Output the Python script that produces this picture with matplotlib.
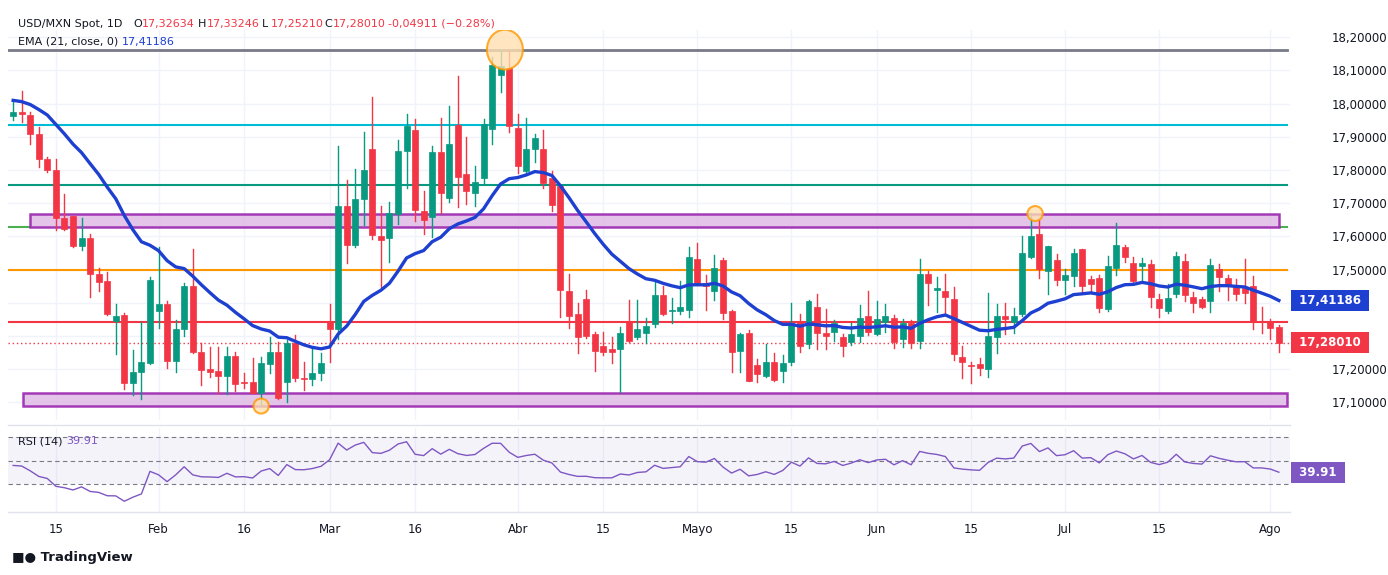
import numpy as np
import pandas as pd
import matplotlib
matplotlib.use("Agg")
from matplotlib import pyplot as plt
from matplotlib import transforms as mtrans
from matplotlib.patches import Rectangle, Ellipse

# daily candles (O, H, L, C)
opens = [17.963, 17.975, 17.965, 17.910, 17.833, 17.800, 17.656, 17.661, 17.571, 17.596,
         17.488, 17.465, 17.346, 17.363, 17.158, 17.191, 17.220, 17.376, 17.396, 17.226,
         17.320, 17.451, 17.253, 17.201, 17.195, 17.181, 17.240, 17.161, 17.160, 17.128,
         17.215, 17.252, 17.160, 17.278, 17.173, 17.170, 17.188, 17.345, 17.321, 17.693,
         17.573, 17.713, 17.863, 17.600, 17.596, 17.668, 17.857, 17.920, 17.678, 17.660,
         17.853, 17.716, 17.935, 17.787, 17.732, 17.775, 17.925, 18.087, 18.108, 17.928,
         17.798, 17.862, 17.863, 17.777, 17.753, 17.435, 17.365, 17.411, 17.306, 17.270,
         17.260, 17.260, 17.345, 17.298, 17.310, 17.335, 17.423, 17.376, 17.376, 17.378,
         17.531, 17.461, 17.436, 17.528, 17.375, 17.256, 17.308, 17.213, 17.181, 17.221,
         17.196, 17.221, 17.345, 17.276, 17.388, 17.310, 17.313, 17.296, 17.283, 17.301,
         17.360, 17.305, 17.343, 17.355, 17.290, 17.340, 17.286, 17.488, 17.440, 17.435,
         17.411, 17.236, 17.213, 17.216, 17.200, 17.296, 17.360, 17.341, 17.366, 17.538,
         17.606, 17.496, 17.528, 17.470, 17.480, 17.561, 17.471, 17.475, 17.380, 17.505,
         17.568, 17.521, 17.510, 17.518, 17.413, 17.376, 17.426, 17.526, 17.418, 17.413,
         17.406, 17.501, 17.476, 17.451, 17.445, 17.451, 17.345, 17.346, 17.32634]
highs = [18.005, 18.037, 17.975, 17.930, 17.840, 17.832, 17.728, 17.663, 17.655, 17.606,
         17.506, 17.493, 17.396, 17.370, 17.258, 17.343, 17.478, 17.568, 17.406, 17.348,
         17.461, 17.561, 17.278, 17.268, 17.268, 17.268, 17.251, 17.188, 17.233, 17.238,
         17.298, 17.283, 17.288, 17.303, 17.221, 17.260, 17.248, 17.396, 17.872, 17.770,
         17.803, 17.915, 18.020, 17.693, 17.705, 17.890, 17.968, 17.953, 17.737, 17.872,
         17.957, 17.992, 18.083, 17.900, 17.813, 17.955, 18.142, 18.158, 18.158, 17.968,
         17.957, 17.908, 17.920, 17.797, 17.755, 17.486, 17.401, 17.438, 17.313, 17.313,
         17.296, 17.328, 17.408, 17.410, 17.353, 17.463, 17.450, 17.415, 17.466, 17.568,
         17.580, 17.483, 17.545, 17.535, 17.378, 17.310, 17.318, 17.231, 17.276, 17.250,
         17.243, 17.398, 17.366, 17.410, 17.426, 17.381, 17.348, 17.306, 17.338, 17.393,
         17.435, 17.405, 17.396, 17.363, 17.350, 17.348, 17.531, 17.495, 17.478, 17.486,
         17.448, 17.271, 17.221, 17.233, 17.431, 17.396, 17.400, 17.385, 17.600, 17.670,
         17.650, 17.570, 17.546, 17.501, 17.561, 17.563, 17.480, 17.483, 17.540, 17.640,
         17.575, 17.538, 17.535, 17.530, 17.428, 17.456, 17.553, 17.548, 17.433, 17.418,
         17.533, 17.518, 17.485, 17.473, 17.533, 17.480, 17.388, 17.350, 17.33246]
lows = [17.952, 17.945, 17.880, 17.810, 17.795, 17.618, 17.620, 17.568, 17.558, 17.418,
        17.436, 17.363, 17.245, 17.140, 17.123, 17.110, 17.215, 17.323, 17.205, 17.191,
        17.300, 17.248, 17.153, 17.178, 17.128, 17.126, 17.133, 17.143, 17.128, 17.088,
        17.190, 17.110, 17.101, 17.163, 17.138, 17.153, 17.168, 17.223, 17.290, 17.521,
        17.568, 17.633, 17.593, 17.448, 17.523, 17.638, 17.747, 17.648, 17.608, 17.598,
        17.670, 17.703, 17.688, 17.698, 17.693, 17.758, 17.880, 18.035, 17.915, 17.792,
        17.792, 17.825, 17.745, 17.678, 17.358, 17.323, 17.248, 17.293, 17.196, 17.243,
        17.218, 17.130, 17.283, 17.290, 17.280, 17.328, 17.363, 17.338, 17.366, 17.358,
        17.453, 17.378, 17.410, 17.351, 17.193, 17.193, 17.163, 17.160, 17.178, 17.163,
        17.160, 17.213, 17.253, 17.263, 17.260, 17.260, 17.286, 17.241, 17.273, 17.283,
        17.303, 17.303, 17.313, 17.263, 17.268, 17.265, 17.263, 17.393, 17.373, 17.368,
        17.228, 17.175, 17.158, 17.183, 17.178, 17.248, 17.306, 17.308, 17.361, 17.536,
        17.475, 17.428, 17.453, 17.428, 17.450, 17.433, 17.430, 17.373, 17.375, 17.485,
        17.523, 17.460, 17.466, 17.388, 17.356, 17.370, 17.418, 17.406, 17.373, 17.383,
        17.373, 17.436, 17.410, 17.410, 17.398, 17.320, 17.310, 17.290, 17.25210]
closes = [17.975, 17.968, 17.910, 17.832, 17.800, 17.655, 17.623, 17.571, 17.596, 17.488,
          17.463, 17.366, 17.361, 17.158, 17.193, 17.221, 17.468, 17.396, 17.226, 17.320,
          17.451, 17.253, 17.198, 17.193, 17.181, 17.240, 17.155, 17.158, 17.128, 17.218,
          17.252, 17.113, 17.278, 17.173, 17.170, 17.188, 17.220, 17.321, 17.693, 17.573,
          17.713, 17.800, 17.605, 17.590, 17.672, 17.857, 17.933, 17.680, 17.650, 17.853,
          17.730, 17.880, 17.780, 17.738, 17.763, 17.940, 18.117, 18.115, 17.933, 17.813,
          17.863, 17.897, 17.762, 17.695, 17.440, 17.360, 17.298, 17.300, 17.256, 17.251,
          17.251, 17.308, 17.286, 17.321, 17.330, 17.423, 17.366, 17.378, 17.388, 17.538,
          17.460, 17.451, 17.506, 17.370, 17.253, 17.306, 17.166, 17.185, 17.221, 17.168,
          17.220, 17.338, 17.271, 17.405, 17.308, 17.301, 17.338, 17.271, 17.306, 17.355,
          17.313, 17.351, 17.360, 17.283, 17.338, 17.280, 17.486, 17.460, 17.445, 17.418,
          17.245, 17.223, 17.211, 17.203, 17.300, 17.360, 17.350, 17.361, 17.550, 17.600,
          17.503, 17.570, 17.468, 17.483, 17.551, 17.451, 17.458, 17.383, 17.510, 17.575,
          17.538, 17.466, 17.521, 17.418, 17.383, 17.416, 17.540, 17.423, 17.398, 17.388,
          17.515, 17.478, 17.451, 17.428, 17.430, 17.341, 17.341, 17.325, 17.28010]

tick_pos = [5, 17, 27, 37, 47, 59, 69, 80, 91, 101, 112, 123, 134, 147]
tick_lbl = ["15", "Feb", "16", "Mar", "16", "Abr", "15", "Mayo", "15", "Jun", "15", "Jul", "15", "Ago"]

# horizontal levels drawn on the chart
lvl_gray, lvl_cyan, lvl_green, lvl_orange, lvl_red = 18.163, 17.935, 17.755, 17.499, 17.343
box_hi = (17.629, 17.669)
box_lo = (17.089, 17.129)
ema_seed = 18.01
rsi_seed = (0.022, 0.026)   # avg gain / loss carried in from before the window

UP, DN = "#089981", "#F23645"
W, H = 1388, 575

df = pd.DataFrame({"o": opens, "h": highs, "l": lows, "c": closes})
x = np.arange(len(df))

# EMA 21
ema = [ema_seed]
a = 2 / 22
for c in closes[1:]:
    ema.append(a * c + (1 - a) * ema[-1])
ema = np.array(ema)

# RSI 14 (Wilder)
g, l_ = rsi_seed
rsi = [100 - 100 / (1 + g / l_)]
for d in np.diff(closes):
    g = (g * 13 + max(d, 0)) / 14
    l_ = (l_ * 13 + max(-d, 0)) / 14
    rsi.append(100 - 100 / (1 + g / l_))
rsi = np.array(rsi)

fig = plt.figure(figsize=(W / 100, H / 100), dpi=100, facecolor="white")
ax = fig.add_axes([8 / W, 1 - 420 / H, 1282 / W, 390 / H])
ar = fig.add_axes([8 / W, 1 - 512 / H, 1282 / W, 84 / H], sharex=ax)

xmin, xmax = -0.6, 149.3
ax.set_xlim(xmin, xmax)
ax.set_ylim(17.047, 18.222)

for a_ in (ax, ar):
    for s in a_.spines.values():
        s.set_visible(False)
    for t in tick_pos:
        a_.axvline(t, color="#f0f3fa", lw=1, zorder=0)
for p in np.arange(17.1, 18.25, 0.1):
    ax.axhline(p, color="#f0f3fa", lw=1, zorder=0)

# levels
ax.plot([xmin, 149], [lvl_gray] * 2, color="#787B86", lw=2, zorder=2)
ax.plot([xmin, 149], [lvl_cyan] * 2, color="#00BCD4", lw=1.5, zorder=2)
ax.plot([xmin, 149], [lvl_green] * 2, color="#089981", lw=1.5, zorder=2)
ax.plot([xmin, 149], [lvl_orange] * 2, color="#FF9800", lw=1.5, zorder=2)
ax.plot([xmin, 149], [lvl_red] * 2, color="#F23645", lw=1.5, zorder=2)
ax.plot([xmin, 2], [box_hi[0]] * 2, color="#4CAF50", lw=1.5, zorder=2)
ax.plot([148, 149], [box_hi[0]] * 2, color="#4CAF50", lw=1.5, zorder=2)
ax.add_patch(Rectangle((2, box_hi[0]), 146, box_hi[1] - box_hi[0], fc="#E1BEE7", ec="#9C27B0",
                       lw=1.8, alpha=0.9, zorder=2))
ax.add_patch(Rectangle((1.1, box_lo[0]), 147.8, box_lo[1] - box_lo[0], fc="#E1BEE7", ec="#9C27B0",
                       lw=1.8, alpha=0.9, zorder=2))
ax.axhline(closes[-1], color=DN, lw=1, ls=(0, (1, 2)), zorder=2)

# candles
for i, r in df.iterrows():
    col = UP if r.c >= r.o else DN
    ax.plot([i, i], [r.l, r.h], color=col, lw=1, zorder=3)
    lo, hi = min(r.o, r.c), max(r.o, r.c)
    ax.add_patch(Rectangle((i - 0.35, lo), 0.7, max(hi - lo, 0.002), fc=col, ec=col, lw=0.5, zorder=4))

ax.plot(x, ema, color="#1E40D0", lw=2.4, zorder=5)

# highlight circles
ax.add_patch(Ellipse((57.5, lvl_gray), 4.2, 0.12, fc="#FFE0B2", ec="#FF9800", lw=1.5, alpha=0.8, zorder=6))
ax.add_patch(Ellipse((119.5, 17.669), 1.8, 0.045, fc="#FFE0B2", ec="#FF9800", lw=1.5, alpha=0.8, zorder=6))
ax.add_patch(Ellipse((29, 17.089), 1.8, 0.045, fc="#FFE0B2", ec="#FF9800", lw=1.5, alpha=0.8, zorder=6))

# price axis (17,4 and 17,3 sit under the badges in the original)
yt = [v for v in np.arange(17.1, 18.25, 0.1) if abs(v - 17.4) > 0.01 and abs(v - 17.3) > 0.01]
ax.yaxis.tick_right()
ax.set_yticks(yt)
ax.set_yticklabels(["{:.5f}".format(v).replace(".", ",") for v in yt])
ax.tick_params(axis="y", length=0, pad=30, labelsize=8.5, labelcolor="#131722")
ax.tick_params(axis="x", length=0, labelbottom=False)
tr = mtrans.blended_transform_factory(ax.transAxes, ax.transData)
ax.text(1.004, ema[-1], " 17,41186 ", transform=tr, color="white", fontsize=8.5, fontweight="bold",
        va="center", zorder=10, bbox=dict(boxstyle="square,pad=0.35", fc="#1E40D0", ec="none"))
ax.text(1.004, closes[-1], " 17,28010 ", transform=tr, color="white", fontsize=8.5, fontweight="bold",
        va="center", zorder=10, bbox=dict(boxstyle="square,pad=0.35", fc=DN, ec="none"))

# RSI pane
ar.set_ylim(6.2, 77.7)
ar.axhspan(30, 70, color="#7E57C2", alpha=0.07, lw=0)
for lv in (30, 50, 70):
    ar.axhline(lv, color="#787B86", lw=0.8, ls=(0, (4, 3)))
ar.plot(x, rsi, color="#7E57C2", lw=1)
ar.set_yticks([])
ar.set_xticks(tick_pos)
ar.set_xticklabels(tick_lbl)
ar.tick_params(axis="x", length=0, pad=8, labelsize=8.5, labelcolor="#131722")
trr = mtrans.blended_transform_factory(ar.transAxes, ar.transData)
ar.text(1.004, rsi[-1], " 39.91 ", transform=trr, color="white", fontsize=8.5, fontweight="bold",
        va="center", bbox=dict(boxstyle="square,pad=0.35", fc="#7E57C2", ec="none"))
fig.add_artist(plt.Line2D([8 / W, 1290 / W], [1 - 425 / H] * 2, color="#e0e3eb", lw=1))
fig.add_artist(plt.Line2D([8 / W, 1290 / W], [1 - 512 / H] * 2, color="#e0e3eb", lw=1))

# header texts
fs = 8
fig.text(18 / W, 1 - 24 / H, "USD/MXN Spot, 1D", fontsize=fs, color="#131722", va="center")
hdr = [(133, "O", "17,32634"), (198, "H", "17,33246"), (262, "L", "17,25210"), (324, "C", "17,28010")]
for xx, k, v in hdr:
    fig.text(xx / W, 1 - 24 / H, k, fontsize=fs, color="#131722", va="center")
    fig.text((xx + 9) / W, 1 - 24 / H, v, fontsize=fs, color=DN, va="center")
fig.text(388 / W, 1 - 24 / H, "-0,04911 (\u22120.28%)", fontsize=fs, color=DN, va="center")
fig.text(18 / W, 1 - 42 / H, "EMA (21, close, 0)", fontsize=fs, color="#131722", va="center")
fig.text(122 / W, 1 - 42 / H, "17,41186", fontsize=fs, color="#1E40D0", va="center")
fig.text(18 / W, 1 - 441 / H, "RSI (14)", fontsize=fs, color="#131722", va="center")
fig.text(66 / W, 1 - 441 / H, "39.91", fontsize=fs, color="#7E57C2", va="center")
fig.text(12 / W, 1 - 557 / H, "\u25a0\u25cf TradingView", fontsize=9.5, color="#131722",
         va="center", fontweight="bold")

fig.savefig("out.png", dpi=100, facecolor="white")
